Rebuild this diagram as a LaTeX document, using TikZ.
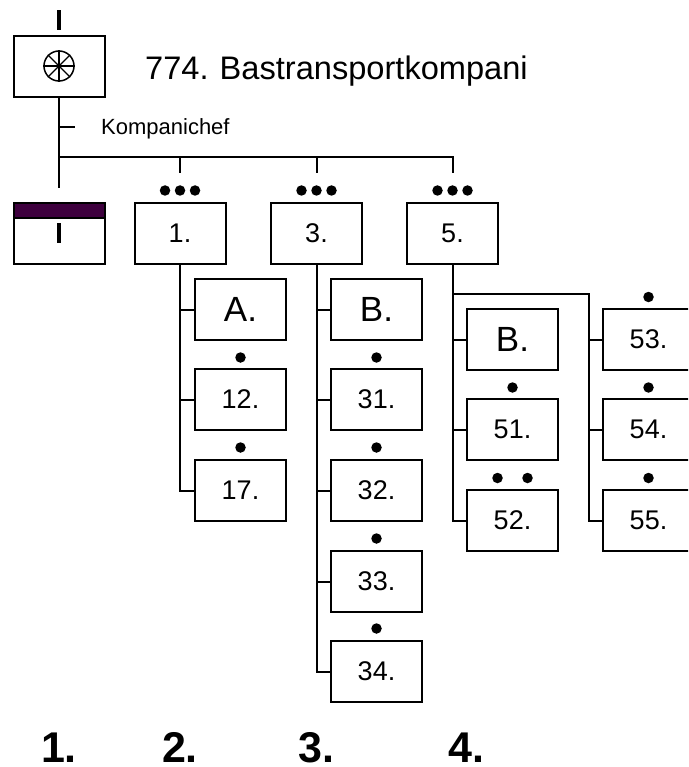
\documentclass[tikz,border=0pt]{standalone}
\usepackage{fontspec}
\setmainfont{Liberation Sans}
\newcommand{\fs}[1]{\fontsize{#1}{#1}\selectfont}
\tikzset{
  x=1pt,y=-1pt,
  unitbox/.style={draw=black,line width=2pt,fill=white,minimum width=91pt,minimum height=61pt,inner sep=0pt,outer sep=0pt,font=\fs{27}},
  bigbox/.style={unitbox,font=\fs{35}},
  link/.style={draw=black,line width=2pt},
  dotmark/.style={fill=black,circle,minimum size=10.5pt,inner sep=0pt,outer sep=0pt},
  rankbar/.style={fill=black,minimum width=4.5pt,minimum height=20pt,inner sep=0pt,outer sep=0pt},
  colnum/.style={font=\fs{43}\bfseries,inner sep=0pt,text height=30pt,text depth=0pt,anchor=south}
}
\begin{document}
\begin{tikzpicture}
\useasboundingbox (0,0) rectangle (688,767);
\clip (0,0) rectangle (688,767);
\fill[white] (0,0) rectangle (688,767);
% top unit
\node[unitbox] (top) at (59,66.5) {};
\node[rankbar] (topbar) at (59,20) {};
\node[draw=black,line width=1.5pt,circle,minimum size=30pt,inner sep=0pt] (wheel) at (59,66) {};
\foreach \a in {0,45,90,135} \draw[line width=1.2pt] (wheel.\a) -- (wheel.\a+180);
\node[anchor=west,font=\fs{32.6},inner sep=0pt] (title) at (145,71) {774.\kern-1pt{} Bastransportkompani};
\node[anchor=west,font=\fs{22},inner sep=0pt] (chief) at (101,129) {Kompanichef};
% row 2
\node[unitbox] (hq) at (59,233.5) {};
\node[draw=black,line width=2pt,minimum width=91pt,minimum height=15pt,inner sep=0pt,outer sep=0pt,fill={rgb,255:red,62;green,0;blue,62}] (band) at (59,210.5) {};
\node[rankbar] (hqbar) at (59,233) {};
\node[unitbox] (p1) at (180,233.5) {1.};
\node[unitbox] (p3) at (316.5,233.5) {3.};
\node[unitbox] (p5) at (452.5,233.5) {5.};
% col 1
\node[bigbox]  (a)   at (240.5,309.5) {A.};
\node[unitbox] (n12) at (240.5,399.5) {12.};
\node[unitbox] (n17) at (240.5,490.5) {17.};
% col 3
\node[bigbox]  (b)   at (376.5,309.5) {B.};
\node[unitbox] (n31) at (376.5,399.5) {31.};
\node[unitbox] (n32) at (376.5,490.5) {32.};
\node[unitbox] (n33) at (376.5,581.5) {33.};
\node[unitbox] (n34) at (376.5,671.5) {34.};
% col 5
\node[bigbox]  (c)   at (512.5,339.5) {B.};
\node[unitbox] (n51) at (512.5,429.5) {51.};
\node[unitbox] (n52) at (512.5,520.5) {52.};
\node[unitbox] (n53) at (648.5,339.5) {53.};
\node[unitbox] (n54) at (648.5,429.5) {54.};
\node[unitbox] (n55) at (648.5,520.5) {55.};
% free ends
\coordinate (stem) at (59,188);
\coordinate (tick) at (75,127.5);
\coordinate (bus) at (59,157.5);
\coordinate (d1) at (180,173);
\coordinate (d3) at (316.5,173);
\coordinate (d5) at (452.5,173);
\coordinate (br) at (452.5,294);
\coordinate (br2) at (588.5,294);
% connectors
\draw[link] (top.south) -- (stem);
\draw[link] (top.south |- tick) -- (tick);
\draw[link] (bus) -| (d5);
\draw[link] (d1 |- bus) -- (d1);
\draw[link] (d3 |- bus) -- (d3);
\draw[link] (p1.south) |- (n17.west);
\draw[link] (p1.south |- a.west) -- (a.west);
\draw[link] (p1.south |- n12.west) -- (n12.west);
\draw[link] (p3.south) |- (n34.west);
\foreach \n in {b,n31,n32,n33} \draw[link] (p3.south |- \n.west) -- (\n.west);
\draw[link] (p5.south) |- (n52.west);
\foreach \n in {c,n51} \draw[link] (p5.south |- \n.west) -- (\n.west);
\draw[link] (br) -- (br2) |- (n55.west);
\foreach \n in {n53,n54} \draw[link] (br2 |- \n.west) -- (\n.west);
% size markers
\foreach \x in {165,180,195} \node[dotmark] at (\x,190.5) {};
\foreach \x in {301.5,316.5,331.5} \node[dotmark] at (\x,190.5) {};
\foreach \x in {437.5,452.5,467.5} \node[dotmark] at (\x,190.5) {};
\foreach \p in {(240.5,357.5),(240.5,447.5),(376.5,357.5),(376.5,447.5),(376.5,538.5),(376.5,628.5),(512.5,387.5),(497.5,478),(527.5,478),(648.5,297),(648.5,387.5),(648.5,478)}
  \node[dotmark] at \p {};
% column numbers
\node[colnum] (c1) at (59,762.5) {1.};
\node[colnum] (c2) at (180,762.5) {2.};
\node[colnum] (c3) at (316.5,762.5) {3.};
\node[colnum] (c4) at (466.5,762.5) {4.};
\end{tikzpicture}
\end{document}
